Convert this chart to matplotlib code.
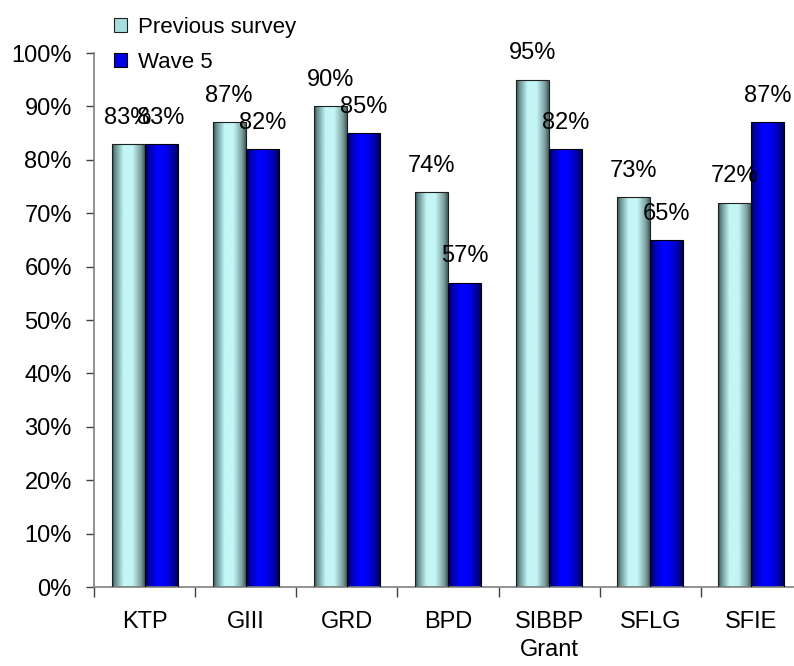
import numpy as np
import matplotlib
matplotlib.use('Agg')
import matplotlib.pyplot as plt
from matplotlib.colors import LinearSegmentedColormap
from matplotlib.patches import Patch
from matplotlib.ticker import FixedLocator, FuncFormatter

plt.rcParams['font.family'] = ['Liberation Sans', 'DejaVu Sans']

categories = ['KTP', 'GIII', 'GRD', 'BPD', 'SIBBP\nGrant', 'SFLG', 'SFIE']
previous = [83, 87, 90, 74, 95, 73, 72]
wave5 = [83, 82, 85, 57, 82, 65, 87]
series_names = ['Previous survey', 'Wave 5']

#=====================================

cyan_cmap = LinearSegmentedColormap.from_list('cyl_cyan', [
    (0.00, '#2c4040'), (0.08, '#5f8585'), (0.35, '#c4f6f6'),
    (0.62, '#c4f6f6'), (0.88, '#7c9e9e'), (1.00, '#3f5a5a')])
blue_cmap = LinearSegmentedColormap.from_list('cyl_blue', [
    (0.00, '#000048'), (0.12, '#0000a8'), (0.38, '#0000ff'),
    (0.60, '#0000f8'), (0.88, '#00009c'), (1.00, '#000050')])

def shade_bars(ax, bars, cmap):
    '''paint a horizontal cylinder gradient inside each bar'''
    grad = np.linspace(0, 1, 256).reshape(1, -1)
    for b in bars:
        x0, y0 = b.get_x(), b.get_y()
        w, h = b.get_width(), b.get_height()
        im = ax.imshow(grad, cmap=cmap, aspect='auto', interpolation='bilinear',
                       extent=(x0, x0 + w, y0, y0 + h), zorder=2)
        im.set_clip_path(b)

#=====================================

fig = plt.figure(figsize=(7.94, 6.66), dpi=100)
ax = fig.add_axes([0.1184, 0.1186, 0.8917, 0.8018])

x = np.arange(len(categories))
w = 0.326
bars_prev = ax.bar(x - w / 2, previous, w, facecolor='none', edgecolor='#202020',
                   linewidth=0.8, zorder=3)
bars_new = ax.bar(x + w / 2, wave5, w, facecolor='none', edgecolor='#000000',
                  linewidth=0.8, zorder=3)
shade_bars(ax, bars_prev, cyan_cmap)
shade_bars(ax, bars_new, blue_cmap)

for bars, vals in [(bars_prev, previous), (bars_new, wave5)]:
    for b, v in zip(bars, vals):
        ax.annotate('%d%%' % v, (b.get_x() + b.get_width() / 2, v),
                    xytext=(0, 11), textcoords='offset points',
                    ha='center', va='bottom', fontsize=17, zorder=4)

ax.set_xlim(-0.5, len(categories) - 0.5)
ax.set_ylim(0, 100)
ax.set_yticks(np.arange(0, 101, 10))
ax.yaxis.set_major_formatter(FuncFormatter(lambda v, p: '%d%%' % v))
ax.xaxis.set_major_locator(FixedLocator(np.arange(-0.5, len(categories), 1)))
ax.xaxis.set_minor_locator(FixedLocator(x))
ax.set_xticklabels([], minor=False)
ax.set_xticklabels(categories, minor=True, linespacing=1.35)
ax.tick_params(axis='x', which='major', length=7, color='#404040', width=1)
ax.tick_params(axis='x', which='minor', length=0, pad=17, labelsize=17)
ax.tick_params(axis='y', length=6, color='#404040', width=1, pad=10, labelsize=17)

for s in ['top', 'right']:
    ax.spines[s].set_visible(False)
for s in ['left', 'bottom']:
    ax.spines[s].set_color('#808080')
    ax.spines[s].set_linewidth(1.2)

handles = [Patch(facecolor='#a6dede', edgecolor='#202020', linewidth=0.8),
           Patch(facecolor='#0000e6', edgecolor='#000000', linewidth=0.8)]
fig.legend(handles, series_names, loc='upper left', bbox_to_anchor=(0.122, 1.0),
           frameon=False, fontsize=16, handlelength=0.6, handleheight=0.6,
           handletextpad=0.5, labelspacing=0.65, borderpad=0.25)

fig.savefig('out.png', dpi=100)
